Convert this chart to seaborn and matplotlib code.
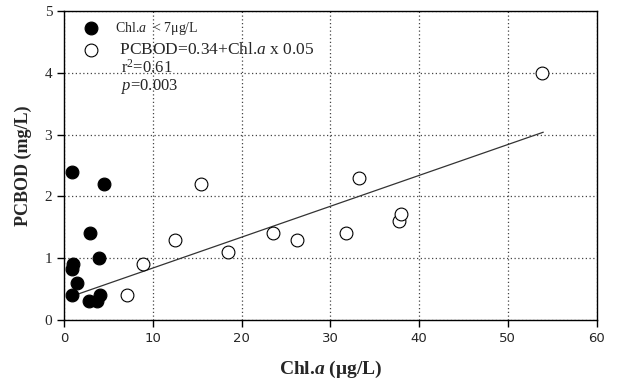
import matplotlib
matplotlib.use("Agg")
import matplotlib.pyplot as plt
import seaborn as sns
import pandas as pd
import numpy as np

# Data
low_chl = [0.86, 4.5, 2.9, 3.9, 0.98, 0.86, 1.5, 0.86, 4.06, 2.86, 3.76]
low_bod = [2.40, 2.20, 1.40, 1.00, 0.91, 0.82, 0.60, 0.40, 0.40, 0.31, 0.31]
high_chl = [7.07, 8.87, 12.5, 15.45, 18.5, 23.5, 26.3, 31.8, 33.2, 37.7, 38.0, 53.9]
high_bod = [0.40, 0.91, 1.30, 2.20, 1.10, 1.40, 1.30, 1.41, 2.30, 1.61, 1.71, 4.00]
fit_intercept = 0.34
fit_slope = 0.05
fit_range = [1.5, 54.0]
x_ticks = [0, 10, 20, 30, 40, 50, 60]
y_ticks = [0, 1, 2, 3, 4, 5]

sns.set_theme(style="white")
plt.rcParams["font.family"] = ["Liberation Serif", "DejaVu Serif"]
plt.rcParams["mathtext.fontset"] = "custom"
plt.rcParams["mathtext.rm"] = "Liberation Serif"
plt.rcParams["mathtext.it"] = "Liberation Serif:italic"
plt.rcParams["mathtext.bf"] = "Liberation Serif:bold"
plt.rcParams["mathtext.bfit"] = "Liberation Serif:italic:bold"

low = pd.DataFrame({"chl": low_chl, "bod": low_bod})
high = pd.DataFrame({"chl": high_chl, "bod": high_bod})

fig = plt.figure(figsize=(6.37, 3.85), dpi=100)
ax = fig.add_axes([0.1005, 0.169, 0.836, 0.802])

ax.grid(True, linestyle=(0, (1, 2)), color="#444444", linewidth=0.9)
ax.set_axisbelow(True)

fx = np.array(fit_range)
sns.lineplot(x=fx, y=fit_intercept + fit_slope * fx, ax=ax, color="#333333",
             linewidth=0.9, zorder=2)
sns.scatterplot(data=low, x="chl", y="bod", ax=ax, color="black", edgecolor="black",
                s=85, linewidth=0.8, zorder=3, label="Chl.$a$  < 7μg/L")
sns.scatterplot(data=high, x="chl", y="bod", ax=ax, facecolor="white", edgecolor="black",
                s=85, linewidth=0.8, zorder=3, label=" PCBOD=0.34+Chl.$a$ x 0.05")

ax.set_xlim(0, 60)
ax.set_ylim(0, 5)
ax.set_xticks(x_ticks)
ax.set_yticks(y_ticks)
ax.set_xticklabels([str(t) for t in x_ticks], family="DejaVu Sans", fontsize=9.5)
ax.set_yticklabels([str(t) for t in y_ticks], family="Liberation Serif", fontsize=11)
ax.tick_params(axis="both", direction="out", length=5, width=1, color="black",
               bottom=True, left=True)
for sp in ax.spines.values():
    sp.set_color("black")
    sp.set_linewidth(1)

ax.set_xlabel("Chl.$\\mathbfit{a}$ (μg/L)", fontsize=14, fontweight="bold", labelpad=10)
ax.set_ylabel("PCBOD (mg/L)", fontsize=13, fontweight="bold", labelpad=9)

leg = ax.legend(loc="upper left", frameon=False, bbox_to_anchor=(0.0, 1.008),
                handletextpad=0.6, labelspacing=0.3, borderaxespad=0.35)
leg.get_texts()[0].set_fontsize(10)
leg.get_texts()[1].set_fontsize(12.5)
ax.text(0.107, 0.845, "r$^2$=0.61\n$p$=0.003", transform=ax.transAxes, fontsize=12,
        va="top", ha="left", linespacing=1.0)

fig.savefig("out.png", dpi=100)
